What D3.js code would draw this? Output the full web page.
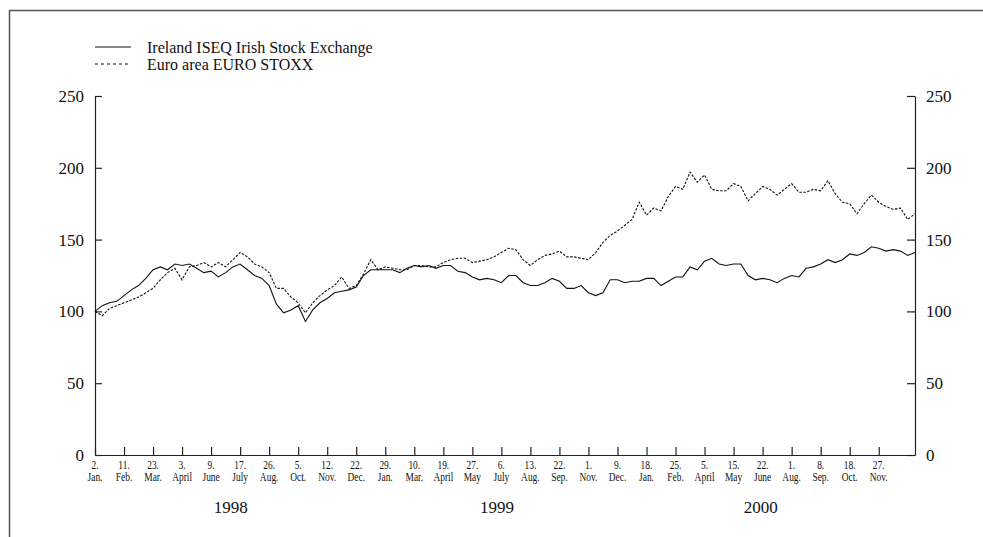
<!DOCTYPE html>
<html>
<head>
<meta charset="utf-8">
<script src="https://cdn.jsdelivr.net/npm/d3@7"></script>
<style>
  body { margin: 0; background: #fff; }
  svg { display: block; font-family: "Liberation Serif", "Times New Roman", serif; }
</style>
</head>
<body>
<div id="container"></div>
<script>
const w = 983, h = 537;

// x axis: evenly spaced tick dates (tick units), 4 samples per tick interval
const tickDays = ["2.", "11.", "23.", "3.", "9.", "17.", "26.", "5.", "12.", "22.", "29.", "10.", "19.", "27.",
    "6.", "13.", "22.", "1.", "9.", "18.", "25.", "5.", "15.", "22.", "1.", "8.", "18.", "27."];
const tickMonths = ["Jan.", "Feb.", "Mar.", "April", "June", "July", "Aug.", "Oct.", "Nov.", "Dec.", "Jan.", "Mar.", "April", "May",
    "July", "Aug.", "Sep.", "Nov.", "Dec.", "Jan.", "Feb.", "April", "May", "June", "Aug.", "Sep.", "Oct.", "Nov."];
const years = ["1998", "1999", "2000"];
const yearAt = [4.68, 13.85, 22.94];
const yTicks = [0, 50, 100, 150, 200, 250];
const seriesNames = ["Ireland ISEQ Irish Stock Exchange", "Euro area EURO STOXX"];
const samplesPerTick = 4;

const ireland = [100, 104, 106, 107, 111, 115, 118, 123, 129, 131,
    129, 133, 132, 133, 130, 127, 128, 124, 127, 131,
    133, 129, 125, 123, 118, 105, 99, 101, 104, 93,
    101, 106, 109, 113, 114, 115, 117, 125, 129, 129,
    129, 129, 127, 130, 132, 131, 132, 130, 132, 132,
    128, 127, 124, 122, 123, 122, 120, 125, 125, 120,
    118, 118, 120, 123, 121, 116, 116, 118, 113, 111,
    113, 122, 122, 120, 121, 121, 123, 123, 118, 121,
    124, 124, 131, 129, 135, 137, 133, 132, 133, 133,
    125, 122, 123, 122, 120, 123, 125, 124, 130, 131,
    133, 136, 134, 136, 140, 139, 141, 145, 144, 142,
    143, 142, 139, 141];

const euroStoxx = [100, 97, 102, 104, 106, 108, 110, 113, 116, 122,
    127, 130, 122, 131, 132, 134, 131, 134, 131, 136,
    141, 138, 133, 131, 127, 116, 116, 110, 106, 99,
    106, 111, 115, 118, 124, 116, 118, 126, 136, 129,
    131, 130, 129, 129, 132, 132, 131, 131, 134, 136,
    137, 137, 134, 135, 136, 138, 141, 144, 143, 136,
    132, 136, 139, 140, 142, 138, 138, 137, 136, 141,
    148, 153, 156, 160, 164, 176, 167, 172, 170, 180,
    187, 185, 197, 190, 195, 185, 184, 184, 189, 187,
    177, 182, 187, 185, 181, 185, 189, 183, 183, 185,
    184, 191, 182, 176, 175, 168, 175, 181, 176, 173,
    171, 172, 164, 168];

const plotLeft = 95, plotRight = 915, plotTop = 96, plotBottom = 455;

const svg = d3.select("#container").append("svg")
    .attr("width", w).attr("height", h);

svg.append("rect").attr("width", w).attr("height", h).attr("fill", "#fff");

// frame
svg.append("path")
    .attr("d", "M9.5," + h + "V10.5H" + w)
    .attr("fill", "none").attr("stroke", "#555").attr("stroke-width", 1.5);

const xScale = d3.scaleLinear().domain([0, 28.25]).range([plotLeft, plotRight]);
const yScale = d3.scaleLinear().domain([0, 250]).range([plotBottom, plotTop]);

// axes
const yLeft = d3.axisLeft(yScale).tickValues(yTicks).tickSize(-7).tickSizeOuter(0).tickPadding(11);
const gl = svg.append("g").attr("transform", "translate(" + plotLeft + ",0)").call(yLeft);
const yRight = d3.axisRight(yScale).tickValues(yTicks).tickSize(-8).tickSizeOuter(0).tickPadding(11);
const gr = svg.append("g").attr("transform", "translate(" + plotRight + ",0)").call(yRight);
[gl, gr].forEach(g => {
    g.selectAll("text").attr("font-size", 17).attr("font-family", "Liberation Serif").attr("fill", "#111");
});

const xAxis = d3.axisBottom(xScale).tickValues(d3.range(tickDays.length)).tickSize(-8).tickSizeOuter(0).tickFormat("");
svg.append("g").attr("transform", "translate(0," + plotBottom + ")").call(xAxis);

svg.selectAll(".domain, .tick line").attr("stroke", "#222").attr("stroke-width", 1.2);

// two-line date labels
const lab = svg.append("g").attr("font-size", 11.5).attr("fill", "#111").attr("text-anchor", "middle");
tickDays.forEach((d, i) => {
    const t = lab.append("text")
        .attr("transform", "translate(" + xScale(i) + ",0) scale(0.82,1)");
    t.append("tspan").attr("x", 0).attr("y", 469).text(d);
    t.append("tspan").attr("x", 0).attr("y", 481).text(tickMonths[i]);
});

svg.append("g").selectAll("text").data(years).enter().append("text")
    .attr("x", (d, i) => xScale(yearAt[i]))
    .attr("y", 513)
    .attr("text-anchor", "middle")
    .attr("font-size", 17)
    .attr("fill", "#111")
    .text(d => d);

// series
const line = d3.line()
    .x((d, i) => xScale(i / samplesPerTick))
    .y(d => yScale(d));

svg.append("path").datum(euroStoxx)
    .attr("d", line).attr("fill", "none")
    .attr("stroke", "#111").attr("stroke-width", 1.1)
    .attr("stroke-dasharray", "2.5,1.5");

svg.append("path").datum(ireland)
    .attr("d", line).attr("fill", "none")
    .attr("stroke", "#111").attr("stroke-width", 1.1);

// legend
const legend = svg.append("g");
seriesNames.forEach((name, i) => {
    const yy = 47 + i * 17;
    legend.append("line").attr("x1", 95).attr("x2", 131).attr("y1", yy).attr("y2", yy)
        .attr("stroke", "#111").attr("stroke-width", 1)
        .attr("stroke-dasharray", i === 0 ? null : "3,3");
    legend.append("text").attr("x", 147).attr("y", yy + 6)
        .attr("font-size", 16).attr("fill", "#111").text(name);
});
</script>
</body>
</html>
